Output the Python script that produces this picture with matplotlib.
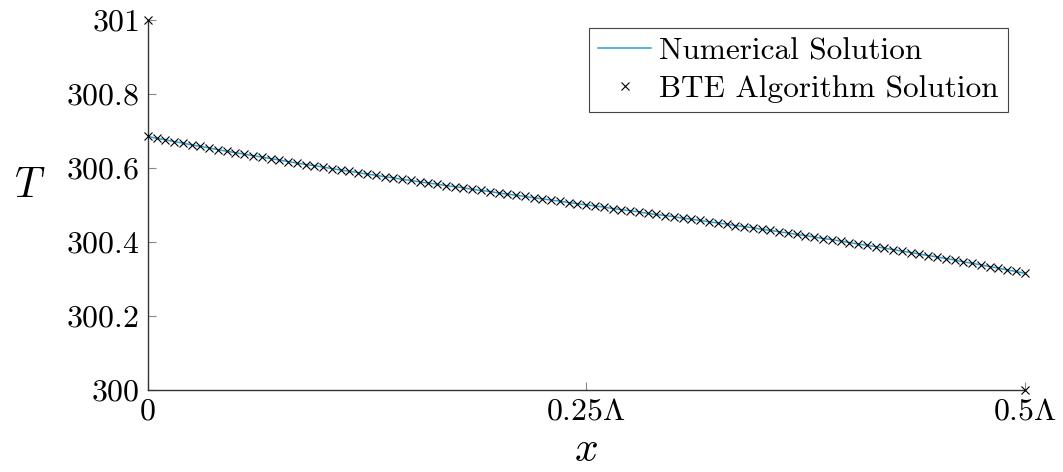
import numpy as np
import matplotlib
matplotlib.use("Agg")
import matplotlib.pyplot as plt

plt.rcParams['mathtext.fontset'] = 'cm'
plt.rcParams['font.family'] = 'serif'
plt.rcParams['font.serif'] = ['cmr10', 'DejaVu Serif']
plt.rcParams['axes.unicode_minus'] = False

# temperature profile, x = 0 ... 0.5 Lambda in 101 steps
T_numeric = [300.685, 300.680, 300.676, 300.671, 300.667, 300.662, 300.658, 300.654, 300.649, 300.645,
             300.641, 300.637, 300.633, 300.629, 300.625, 300.621, 300.617, 300.613, 300.609, 300.606,
             300.602, 300.598, 300.594, 300.591, 300.587, 300.583, 300.580, 300.576, 300.573, 300.569,
             300.566, 300.562, 300.559, 300.556, 300.552, 300.549, 300.546, 300.542, 300.539, 300.536,
             300.532, 300.529, 300.526, 300.523, 300.519, 300.516, 300.513, 300.510, 300.506, 300.503,
             300.500, 300.497, 300.494, 300.490, 300.487, 300.484, 300.481, 300.477, 300.474, 300.471,
             300.468, 300.464, 300.461, 300.458, 300.454, 300.451, 300.448, 300.444, 300.441, 300.438,
             300.434, 300.431, 300.427, 300.424, 300.420, 300.417, 300.413, 300.409, 300.406, 300.402,
             300.398, 300.394, 300.391, 300.387, 300.383, 300.379, 300.375, 300.371, 300.367, 300.363,
             300.359, 300.355, 300.351, 300.346, 300.342, 300.338, 300.333, 300.329, 300.324, 300.320,
             300.315]
x_grid = np.linspace(0, 0.5, len(T_numeric))

# BTE result: same profile plus the two wall temperatures
T_wall_left, T_wall_right = 301.0, 300.0
x_bte = np.concatenate([[0.0], x_grid, [0.5]])
T_bte = np.concatenate([[T_wall_left], T_numeric, [T_wall_right]])

yticks = [300, 300.2, 300.4, 300.6, 300.8, 301]
ytick_labels = [r'$300$', r'$300.2$', r'$300.4$', r'$300.6$', r'$300.8$', r'$301$']
xticks = [0, 0.25, 0.5]
xtick_labels = [r'$0$', r'$0.25\Lambda$', r'$0.5\Lambda$']

fig = plt.figure(figsize=(10.63, 4.72), dpi=100)
ax = fig.add_axes([0.139, 0.174, 0.825, 0.784])

ax.plot(x_grid, T_numeric, color='#2a9fd6', lw=1.1, label='Numerical Solution', zorder=2)
ax.plot(x_bte, T_bte, ls='none', marker='x', ms=6, mew=0.8, color='black',
        label='BTE Algorithm Solution', clip_on=False, zorder=3)

ax.set_xlim(0, 0.5)
ax.set_ylim(300, 301)
ax.set_xticks(xticks)
ax.set_xticklabels(xtick_labels, fontsize=23)
ax.set_yticks(yticks)
ax.set_yticklabels(ytick_labels, fontsize=23)
ax.tick_params(direction='in', length=6, width=0.8, color='#888888', pad=6)

ax.spines['top'].set_visible(False)
ax.spines['right'].set_visible(False)
for s in ['left', 'bottom']:
    ax.spines[s].set_color('#333333')
    ax.spines[s].set_linewidth(1.0)

ax.set_xlabel(r'$x$', fontsize=30, labelpad=4)
ax.set_ylabel(r'$T$', fontsize=30, rotation=0, labelpad=0)
ax.yaxis.set_label_coords(-0.135, 0.5)

leg = ax.legend(loc='upper right', bbox_to_anchor=(0.981, 0.978), borderaxespad=0,
                fontsize=22.5, fancybox=False, framealpha=1, edgecolor='#444444',
                handlelength=1.7, handletextpad=0.25, borderpad=0.3, labelspacing=0.3)
leg.get_frame().set_linewidth(0.8)

fig.savefig('out.png', dpi=100)
